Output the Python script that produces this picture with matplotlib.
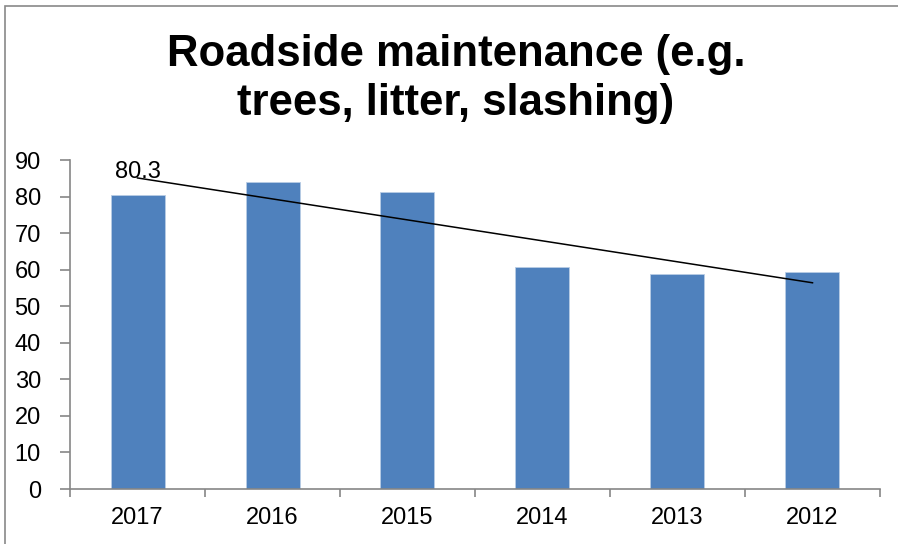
import numpy as np
import matplotlib
matplotlib.use("Agg")
import matplotlib.pyplot as plt
from matplotlib.patches import Rectangle

# data
years = ["2017", "2016", "2015", "2014", "2013", "2012"]
values = [80.3, 84.0, 81.3, 60.7, 58.8, 59.4]
yticks = [0, 10, 20, 30, 40, 50, 60, 70, 80, 90]

plt.rcParams['font.family'] = ['Liberation Sans', 'DejaVu Sans']

fig = plt.figure(figsize=(8.98, 5.44), dpi=100)
ax = fig.add_axes([70 / 898, 55 / 544, 810 / 898, 329 / 544])

x = np.arange(len(years))
ax.bar(x, values, width=0.4, color="#4F81BD", edgecolor="#B9CDE5", linewidth=0.6, zorder=2)

# linear trendline like excel's
slope, intercept = np.polyfit(x + 1, values, 1)
trend = slope * (x + 1) + intercept
ax.plot(x, trend, color="black", linewidth=1.1, zorder=3)

# data label sitting on the trendline start
ax.text(x[0], trend[0], f"{values[0]}", ha="center", va="baseline", fontsize=17, zorder=4)

ax.set_xlim(-0.5, len(years) - 0.5)
ax.set_ylim(0, 90)
ax.set_yticks(yticks)
ax.set_yticklabels([str(t) for t in yticks], fontsize=17)
ax.set_xticks(x)
ax.set_xticklabels(years, fontsize=17)
ax.set_xticks(np.arange(len(years) + 1) - 0.5, minor=True)

gray = "#868686"
for s in ["top", "right"]:
    ax.spines[s].set_visible(False)
for s in ["left", "bottom"]:
    ax.spines[s].set_color(gray)
    ax.spines[s].set_linewidth(1.2)

ax.tick_params(axis="y", direction="out", length=7, width=1.2, color=gray, pad=14)
ax.tick_params(axis="x", which="major", length=0, pad=13)
ax.tick_params(axis="x", which="minor", direction="out", length=6, width=1.2, color=gray)

fig.text(456 / 898, 1 - 79 / 544, "Roadside maintenance (e.g.\ntrees, litter, slashing)",
         ha="center", va="center", fontsize=31.5, fontweight="bold", linespacing=1.22)

# outer chart frame, cropped at right and bottom
fig.patches.append(Rectangle((5 / 898, -0.1), 1.2, 1.1 - 6 / 544, transform=fig.transFigure,
                             fill=False, edgecolor="#898989", linewidth=1.2))

fig.savefig("out.png", dpi=100)
